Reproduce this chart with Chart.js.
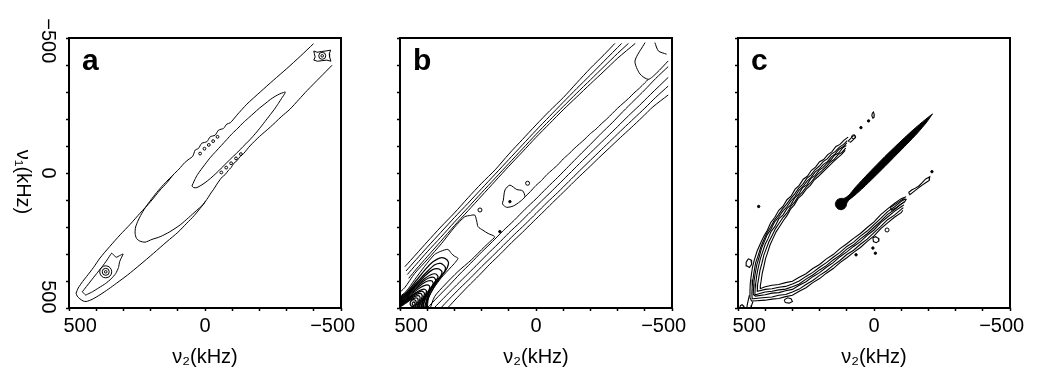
<!DOCTYPE html>
<html><head><meta charset="utf-8">
<script src="https://cdn.jsdelivr.net/npm/chart.js@4.4.1/dist/chart.umd.min.js"></script>
<style>
html,body{margin:0;padding:0;background:#fff;width:1039px;height:375px;overflow:hidden;}
canvas{position:absolute;top:0;}
</style></head><body>
<canvas id="ca" width="380" height="375" style="left:0px;width:380px;height:375px"></canvas>
<canvas id="cb" width="340" height="375" style="left:360px;width:340px;height:375px"></canvas>
<canvas id="cc" width="339" height="375" style="left:700px;width:339px;height:375px"></canvas>
<script>
// ---------- axis text ----------
const xTickValues = [500, 0, -500];
const xTickLabels = ['500', '0', '\u2212500'];
const yTickValues = [-500, 0, 500];
const yTickLabels = ['\u2212500', '0', '500'];
const xTitle = '\u03bd\u2082(kHz)';
const yTitle = '\u03bd\u2081(kHz)';
const panelLetters = ['a', 'b', 'c'];

// ---------- panel a contours [v2, v1] ----------
const aOuterUpper = [[474,445],[466,426],[450,402],[435,383],[410,350],[386,315],[350,272],[312,229],[275,190],[239,149],[200,106],[165,63],[140,36],[118,8],[95,-15],[75,-38],[58,-52],[45,-62],[36,-85],[24,-91],[12,-110],[-7,-116],[-19,-134],[-37,-140],[-50,-159],[-68,-165],[-80,-181],[-93,-186],[-117,-214],[-154,-255],[-203,-300],[-252,-344],[-301,-387],[-350,-432],[-399,-479]];
const aOuterLower = [[474,445],[470,456],[460,466],[448,474],[437,476],[415,468],[386,451],[355,430],[325,408],[285,378],[239,340],[190,298],[140,254],[100,220],[67,186],[40,158],[18,131],[5,115],[-1,106],[-12,90],[-22,74],[-32,60],[-42,44],[-55,25],[-64,14],[-74,6],[-86,-10],[-96,-20],[-106,-36],[-118,-46],[-130,-62],[-142,-72],[-165,-100],[-200,-135],[-240,-170],[-280,-208],[-312,-236],[-345,-272],[-375,-305],[-424,-355],[-467,-399]];
const aHairpin = [[114,4],[122,12],[140,30],[165,57],[190,88],[208,112],[228,142],[245,174],[255,200],[257,223],[252,242],[240,252],[220,256],[195,246],[165,236],[130,218],[91,192],[60,165],[30,138],[12,122],[2,110],[-2,104]];
const aEllipse = [[48,48],[40,30],[30,10],[15,-12],[0,-32],[-20,-58],[-40,-80],[-60,-102],[-80,-124],[-100,-146],[-121,-166],[-140,-186],[-160,-204],[-180,-222],[-200,-240],[-220,-256],[-240,-272],[-258,-284],[-275,-293],[-288,-298],[-295,-300],[-292,-292],[-284,-280],[-270,-258],[-255,-236],[-240,-216],[-220,-190],[-200,-164],[-180,-140],[-160,-118],[-140,-98],[-121,-78],[-100,-58],[-80,-38],[-60,-18],[-40,2],[-20,20],[0,36],[15,46],[30,54],[42,54],[48,48]];
const aCup = [[451,440],[420,400],[398,372],[378,347],[360,322],[343,297],[334,306],[326,312],[314,306],[301,300],[308,315],[314,329],[318,350],[328,372],[345,392],[365,409],[390,425],[414,440],[430,448],[439,452],[451,440]];
const aUpperBox = [[-400,-452],[-412,-447],[-428,-450],[-445,-452],[-462,-455],[-457,-442],[-458,-430],[-463,-414],[-448,-418],[-430,-416],[-414,-414],[-400,-418],[-405,-430],[-402,-442],[-400,-452]];
const aSmallLoops = [[18,-72],[2,-90],[-14,-104],[-30,-118],[-46,-134],[-60,-2],[-78,-20],[-96,-36],[-114,-54],[-132,-70]];
const aPeakMain = [[365,366]];
const aPeaks = [[365,366],[-431,-434]];

// ---------- panel b contours ----------
const bU1 = [[482,347],[440,300],[400,255],[350,200],[300,148],[250,92],[200,38],[150,-12],[100,-70],[50,-124],[0,-178],[-50,-230],[-100,-279],[-150,-334],[-200,-388],[-250,-438],[-290,-480]];
const bU2 = [[478,363],[440,320],[400,275],[350,220],[300,165],[250,112],[200,58],[150,4],[100,-50],[50,-104],[0,-158],[-50,-210],[-100,-262],[-150,-313],[-200,-363],[-250,-414],[-315,-480]];
const bU3 = [[473,376],[440,338],[400,292],[350,238],[300,182],[250,128],[200,73],[150,19],[100,-35],[50,-89],[0,-143],[-50,-195],[-100,-246],[-150,-296],[-200,-345],[-250,-394],[-300,-443],[-340,-480]];
const bU4 = [[468,390],[440,356],[400,310],[350,253],[300,195],[250,140],[200,85],[150,30],[100,-25],[50,-78],[0,-132],[-50,-183],[-100,-234],[-150,-282],[-200,-330],[-250,-377],[-300,-425],[-365,-480]];
const bL0 = [[40,88],[20,68],[0,46],[-20,28],[-40,6],[-60,-12],[-80,-30],[-100,-52],[-120,-70],[-140,-90],[-160,-108],[-180,-126],[-200,-146],[-220,-162],[-240,-182],[-260,-200],[-280,-220],[-300,-240],[-320,-258],[-340,-276],[-360,-296],[-380,-314],[-400,-334],[-413,-347]];
const bL1 = [[400,500],[360,458],[320,417],[280,374],[240,334],[200,293],[160,254],[120,213],[80,175],[40,134],[0,96],[-40,55],[-80,16],[-120,-25],[-160,-66],[-200,-106],[-240,-147],[-280,-186],[-320,-228],[-360,-268],[-400,-308],[-440,-350],[-486,-394]];
const bL2 = [[375,500],[340,464],[300,423],[260,383],[220,343],[180,302],[140,263],[100,222],[60,184],[20,144],[-20,104],[-60,65],[-100,25],[-140,-15],[-180,-55],[-220,-94],[-260,-133],[-300,-172],[-340,-212],[-380,-250],[-420,-290],[-486,-354]];
const bL3 = [[350,500],[320,468],[280,427],[240,388],[200,347],[160,308],[120,268],[80,228],[40,190],[0,150],[-40,110],[-80,72],[-120,32],[-160,-8],[-200,-47],[-240,-86],[-280,-125],[-320,-164],[-360,-202],[-400,-240],[-440,-280],[-486,-322]];
const bL4 = [[325,500],[290,462],[250,420],[210,380],[170,338],[130,299],[90,258],[50,220],[10,180],[-30,141],[-70,101],[-110,62],[-150,22],[-190,-16],[-230,-55],[-270,-93],[-310,-131],[-350,-168],[-390,-206],[-430,-245],[-486,-289]];
const bBlob = [[120,100],[114,63],[96,45],[71,61],[49,66],[41,88],[59,106],[83,122],[108,127],[123,115],[120,100]];
const bCornerShape = [[-401,-483],[-364,-415],[-382,-367],[-413,-347],[-444,-371],[-486,-415]];
const bCornerArc = [[-437,-483],[-450,-452],[-480,-440]];
const bK1 = [[510,450],[483,425],[446,372],[397,318],[348,262],[299,200],[262,162],[240,157],[225,156],[218,178],[213,199],[195,212],[176,224],[152,236],[170,255],[189,273],[238,322],[287,365],[336,415],[373,458],[391,508]];
const bK2 = [[510,465],[477,438],[446,395],[409,345],[373,302],[350,290],[324,283],[311,298],[300,308],[287,316],[300,335],[311,347],[348,388],[375,425],[395,462],[400,508]];
const bK2b = [[510,470],[474,440],[440,398],[405,355],[380,330],[355,315],[335,316],[322,330],[326,350],[340,372],[360,398],[380,430],[398,470],[404,508]];
const bK3 = [[510,475],[470,440],[435,402],[400,365],[372,340],[350,335],[334,348],[336,365],[352,385],[372,410],[392,440],[408,508]];
const bK3b = [[510,478],[472,446],[438,411],[405,378],[380,358],[358,355],[346,365],[350,382],[365,402],[385,430],[400,462],[412,508]];
const bK4 = [[510,482],[475,452],[442,420],[410,392],[385,376],[368,374],[360,385],[370,402],[385,425],[400,452],[412,482],[416,508]];
const bK4b = [[510,485],[476,457],[445,428],[415,402],[392,388],[375,387],[369,398],[378,414],[394,438],[408,465],[420,508]];
const bK5 = [[510,488],[478,462],[448,436],[420,412],[398,400],[382,400],[378,412],[388,428],[402,448],[415,472],[424,508]];
const bK5b = [[510,491],[480,467],[452,444],[425,424],[405,415],[392,418],[392,430],[402,448],[414,470],[427,508]];
const bK6 = [[510,494],[482,472],[455,452],[430,436],[412,430],[403,436],[406,450],[416,468],[426,488],[431,508]];
const bK6b = [[510,497],[484,476],[458,456],[435,443],[418,438],[410,446],[415,462],[428,484],[435,508]];
const bK7 = [[510,499],[485,480],[462,462],[440,450],[424,446],[418,456],[424,472],[434,490],[438,508]];
const bK7b = [[510,501],[487,484],[465,468],[445,457],[430,455],[426,464],[432,480],[438,496],[441,508]];
const bK8 = [[510,503],[488,488],[468,474],[450,464],[436,464],[434,476],[442,492],[444,508]];
const bK9 = [[462,478],[455,470],[445,470],[440,480],[445,492],[455,495],[462,488],[462,478]];
const bK10 = [[456,484],[452,478],[446,480],[446,488],[452,490],[456,484]];
const bDots = [[96,106],[133,217]];
const bRings = [[31,38],[206,137]];

// ---------- panel c contours ----------
const cLeft1 = [[95,-133],[110,-122],[125,-106],[140,-98],[155,-78],[170,-68],[185,-50],[200,-42],[215,-22],[230,-10],[245,12],[260,23],[275,46],[290,60],[305,86],[320,99],[335,124],[350,138],[365,165],[380,184],[392,212],[404,232],[418,262],[430,290],[440,322],[447,350],[452,385],[455,410],[456,440],[456,462]];
const cLeft2 = [[98,-120],[112,-106],[127,-96],[142,-80],[157,-70],[172,-52],[187,-42],[202,-25],[217,-12],[232,8],[247,20],[262,42],[277,56],[292,78],[307,96],[322,116],[337,134],[352,156],[367,176],[381,202],[394,222],[406,250],[416,274],[426,306],[435,332],[441,366],[445,394],[448,424],[449,446],[448,466]];
const cLeft3 = [[100,-112],[114,-97],[128,-88],[143,-71],[157,-60],[171,-42],[186,-32],[201,-15],[216,-4],[231,16],[246,30],[261,50],[276,64],[291,88],[306,104],[321,126],[336,142],[351,164],[366,182],[380,210],[393,229],[404,256],[414,280],[423,314],[431,340],[437,374],[441,400],[443,430],[444,450]];
const cLeft4 = [[102,-102],[116,-92],[130,-74],[145,-66],[159,-48],[173,-36],[188,-20],[202,-10],[217,10],[232,20],[247,44],[262,54],[277,78],[291,92],[306,118],[320,132],[335,156],[350,170],[364,198],[378,216],[390,244],[400,264],[410,294],[418,318],[426,352],[431,378],[435,410],[437,430],[438,452]];
const cLeft5 = [[104,-92],[118,-76],[132,-68],[147,-50],[161,-40],[175,-24],[190,-10],[204,2],[219,18],[233,36],[248,50],[263,70],[278,86],[292,108],[306,124],[320,148],[334,164],[349,186],[362,206],[375,232],[386,254],[396,280],[405,304],[412,334],[419,360],[424,390],[428,414],[430,436]];
const cLeft6 = [[106,-84],[120,-68],[134,-56],[149,-42],[163,-28],[177,-14],[192,0],[206,14],[220,26],[234,46],[249,60],[264,80],[279,94],[293,118],[307,134],[320,158],[333,176],[347,198],[360,218],[372,244],[382,266],[391,294],[399,318],[405,347],[411,372],[415,400],[418,418],[418,428]];
const cRight1 = [[412,426],[400,421],[375,416],[350,413],[325,406],[300,401],[275,386],[250,373],[225,354],[200,339],[175,318],[150,302],[125,280],[100,262],[75,242],[50,224],[25,202],[0,181],[-25,154],[-50,133],[-75,113],[-100,95],[-118,88]];
const cRight2 = [[428,438],[400,431],[375,429],[350,423],[325,420],[300,411],[275,400],[250,383],[225,368],[200,349],[175,332],[150,312],[125,294],[100,272],[75,256],[50,234],[25,215],[0,191],[-25,168],[-50,143],[-75,126],[-100,105],[-116,96]];
const cRight3 = [[438,452],[420,446],[400,441],[375,438],[350,433],[325,430],[300,421],[275,411],[250,393],[225,378],[200,359],[175,343],[150,322],[125,304],[100,282],[75,266],[50,244],[25,225],[0,201],[-25,178],[-50,153],[-75,136],[-100,115],[-112,106]];
const cRight4 = [[444,450],[436,456],[400,451],[375,445],[350,443],[325,436],[300,431],[275,416],[250,403],[225,384],[200,369],[175,349],[150,332],[125,310],[100,292],[75,272],[50,254],[25,231],[0,211],[-25,184],[-50,163],[-75,142],[-100,125],[-110,118]];
const cRight5 = [[448,466],[444,466],[420,463],[400,461],[375,459],[350,453],[325,450],[300,441],[275,430],[250,413],[225,398],[200,379],[175,363],[150,342],[125,324],[100,302],[75,286],[50,264],[25,245],[0,221],[-25,198],[-50,173],[-75,156],[-100,135],[-108,128]];
const cRight6 = [[456,462],[450,474],[430,473],[400,471],[375,467],[350,465],[325,458],[300,453],[275,438],[250,425],[225,406],[200,391],[175,371],[150,354],[125,332],[100,314],[75,294],[50,276],[25,253],[0,233],[-25,206],[-50,185],[-75,164],[-100,147],[-106,138]];
const cLoopA = [[95,-118],[88,-125],[80,-135],[72,-140],[68,-133],[76,-124],[86,-114],[95,-118]];
const cLoopB = [[6,-222],[2,-226],[-1,-216],[0,-206],[4,-203],[8,-212],[6,-222]];
const cLoopC = [[-127,72],[-140,62],[-152,56],[-165,48],[-178,35],[-190,22],[-205,14],[-203,28],[-190,36],[-176,46],[-160,58],[-145,70],[-132,80],[-127,72]];
const cLoopD = [[-60,128],[-75,118],[-90,108],[-108,96],[-118,98],[-112,108],[-95,118],[-80,130],[-65,138],[-60,128]];
const cLoopE = [[4,240],[-6,236],[-16,242],[-18,252],[-8,258],[2,254],[4,240]];
const cLoopF = [[492,492],[485,488],[478,494],[484,500],[492,498],[492,492]];
const cLoopG = [[470,330],[462,318],[452,322],[450,338],[458,350],[468,344],[470,330]];
const cLoopH = [[330,470],[318,462],[305,466],[300,476],[312,482],[326,480],[330,470]];
const cCorner1 = [[458,452],[462,470],[466,488],[468,505]];
const cCorner2 = [[445,476],[450,490],[452,505]];
const cStreak = [[-215,-219],[-195,-203],[-160,-174],[-120,-138],[-80,-100],[-40,-61],[0,-20],[40,22],[70,55],[92,82],[110,94],[122,94],[135,99],[142,112],[140,124],[132,133],[121,136],[110,132],[103,124],[100,112],[92,100],[70,82],[40,55],[0,16],[-40,-24],[-80,-65],[-120,-106],[-160,-148],[-195,-190],[-215,-219]];
const cDots = [[20,-193],[48,-168],[424,124],[-213,-5],[66,303],[-5,297],[4,278]];
const cRings = [[-48,211],[75,-134]];

// ---------- helpers ----------
const FONT = "'Liberation Sans', Arial, Helvetica, sans-serif";
Chart.defaults.font.family = FONT;
Chart.defaults.color = '#000';

function pts(arr) { return arr.map(p => ({x: p[0], y: p[1]})); }
function line(arr, extra) {
  return Object.assign({data: pts(arr), showLine: true, borderColor: '#000', borderWidth: 1,
    pointRadius: 0, pointHoverRadius: 0, fill: false, tension: 0}, extra || {});
}
function marks(arr, r, filled) {
  return {data: pts(arr), showLine: false, pointRadius: r, pointHoverRadius: r, pointStyle: 'circle',
    pointBorderColor: '#000', pointBorderWidth: 1,
    pointBackgroundColor: filled ? '#000' : 'rgba(0,0,0,0)'};
}
function xAxis() {
  return {
    type: 'linear', min: -500, max: 500, reverse: true, position: 'bottom',
    ticks: {stepSize: 100, autoSkip: false, maxRotation: 0, minRotation: 0, padding: 3,
      color: '#000', font: {size: 20},
      callback: (v) => {
        const i = xTickValues.indexOf(Math.round(v));
        if (i < 0) return '';
        if (i === 0) return '    ' + xTickLabels[i];
        if (i === 2) return xTickLabels[i] + '   ';
        return xTickLabels[i];
      }},
    grid: {display: true, drawOnChartArea: false, drawTicks: true, tickLength: 3, tickWidth: 1.5, tickColor: '#000'},
    border: {display: false},
    title: {display: true, text: xTitle, color: '#000', font: {size: 20}, padding: {top: 0, bottom: 6}},
    afterFit: (s) => { s.height = 67; s.paddingLeft = 0; s.paddingRight = 0; }
  };
}
function yAxis(w, showLabels) {
  return {
    type: 'linear', min: -500, max: 500, reverse: true, position: 'left',
    ticks: {stepSize: 100, autoSkip: false, minRotation: -90, maxRotation: -90, crossAlign: 'center',
      padding: -9, color: '#000', font: {size: 20},
      callback: (v) => {
        if (!showLabels) return '';
        const i = yTickValues.indexOf(Math.round(v));
        if (i < 0) return '';
        if (i === 0) return ' ' + yTickLabels[i];
        if (i === 2) return yTickLabels[i] + '    ';
        return yTickLabels[i];
      }},
    grid: {display: true, drawOnChartArea: false, drawTicks: true, tickLength: 3, tickWidth: 1.5, tickColor: '#000'},
    border: {display: false},
    afterFit: (s) => { s.width = w; s.paddingTop = 0; s.paddingBottom = 0; }
  };
}
const framePlugin = {
  id: 'frame',
  afterDatasetsDraw(chart) {
    const {ctx, chartArea: a} = chart;
    ctx.save(); ctx.strokeStyle = '#000'; ctx.lineWidth = 2;
    ctx.strokeRect(a.left, a.top, a.right - a.left, a.bottom - a.top);
    ctx.restore();
  }
};
function letterPlugin(letter) {
  return {
    id: 'letter',
    afterDraw(chart) {
      const {ctx, chartArea: a} = chart;
      ctx.save(); ctx.fillStyle = '#000'; ctx.font = 'bold 30px ' + FONT;
      ctx.textAlign = 'left'; ctx.textBaseline = 'alphabetic';
      ctx.fillText(letter, a.left + 13, a.top + 32);
      ctx.restore();
    }
  };
}
const yTitlePlugin = {
  id: 'ytitle',
  afterDraw(chart) {
    const ctx = chart.ctx;
    ctx.save(); ctx.fillStyle = '#000'; ctx.font = '20px ' + FONT;
    ctx.translate(23, 182); ctx.rotate(Math.PI / 2);
    ctx.textAlign = 'center'; ctx.textBaseline = 'middle';
    ctx.fillText(yTitle, 0, 0);
    ctx.restore();
  }
};
function makeChart(id, datasets, yw, showY, padRight, plugins) {
  return new Chart(document.getElementById(id), {
    type: 'line',
    data: {datasets: datasets},
    options: {
      responsive: false, animation: false, devicePixelRatio: 1, events: [],
      layout: {padding: {top: 38, right: padRight, left: 0, bottom: 0}},
      plugins: {legend: {display: false}, tooltip: {enabled: false}, title: {display: false}},
      scales: {x: xAxis(), y: yAxis(yw, showY)}
    },
    plugins: plugins
  });
}

// ---------- panel a ----------
const smooth = {tension: 0.25};
makeChart('ca', [
  line(aOuterUpper, smooth), line(aOuterLower, smooth), line(aHairpin, smooth),
  line(aEllipse, smooth), line(aCup, {tension: 0.15}), line(aUpperBox),
  marks(aSmallLoops, 1.4, false),
  marks(aPeakMain, 6, false), marks(aPeaks, 3.5, false), marks(aPeaks, 1.3, false)
], 69, true, 39, [framePlugin, letterPlugin(panelLetters[0]), yTitlePlugin]);

// ---------- panel b ----------
const dense = {tension: 0.25, borderWidth: 1.25};
makeChart('cb', [
  line(bU1, smooth), line(bU2, smooth), line(bU3, smooth), line(bU4, smooth),
  line(bL0, smooth), line(bL1, smooth), line(bL2, smooth), line(bL3, smooth), line(bL4, smooth),
  line(bBlob, smooth), line(bCornerShape, smooth), line(bCornerArc, smooth),
  line(bK1, smooth), line(bK2, smooth), line(bK2b, dense), line(bK3, dense), line(bK3b, dense),
  line(bK4, dense), line(bK4b, dense), line(bK5, dense), line(bK5b, dense),
  line(bK6, dense), line(bK6b, dense), line(bK7, dense), line(bK7b, dense), line(bK8, dense),
  line(bK9, dense), line(bK10, dense),
  marks(bDots, 1.2, true), marks(bRings, 2, false)
], 40, false, 28, [framePlugin, letterPlugin(panelLetters[1])]);

// ---------- panel c ----------
const jag = {borderWidth: 1.1};
makeChart('cc', [
  line(cLeft1.concat(cRight6), jag), line(cLeft2.concat(cRight5), jag), line(cLeft3.concat(cRight4), jag),
  line(cLeft4.concat(cRight3), jag), line(cLeft5.concat(cRight2), jag), line(cLeft6.concat(cRight1), jag),
  line(cLoopA, jag), line(cLoopB, jag), line(cLoopC, jag), line(cLoopD, jag), line(cLoopE, jag), line(cLoopF, jag),
  line(cLoopG, jag), line(cLoopH, jag),
  line(cCorner1, jag), line(cCorner2, jag),
  line(cStreak, {fill: 'shape', backgroundColor: '#000', borderWidth: 1, tension: 0.2}),
  marks(cDots, 1.2, true), marks(cRings, 2, false)
], 38, false, 29, [framePlugin, letterPlugin(panelLetters[2])]);
</script>
</body></html>
